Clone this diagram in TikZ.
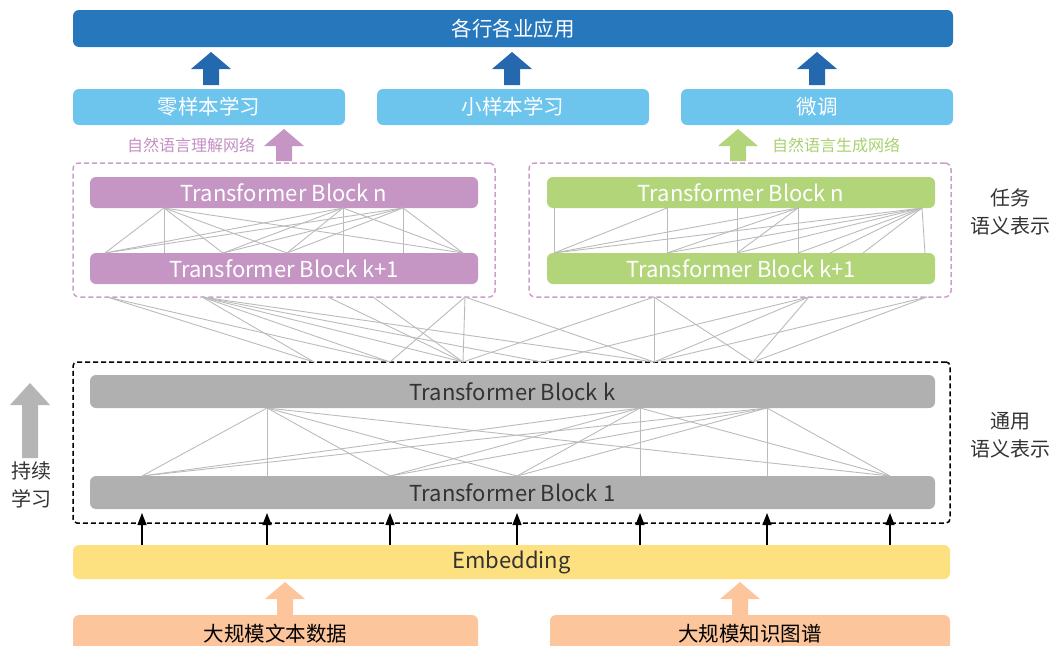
\documentclass[tikz,border=0pt]{standalone}
\usepackage{fontspec}
\setmainfont{Noto Sans CJK SC}
\usetikzlibrary{arrows.meta,calc}
\definecolor{topblue}{HTML}{2777BD}
\definecolor{arrblue}{HTML}{2468AE}
\definecolor{lightblue}{HTML}{6DC5EE}
\definecolor{purp}{HTML}{C596C4}
\definecolor{purpdash}{HTML}{CC9FCB}
\definecolor{purptext}{HTML}{C38EC1}
\definecolor{green1}{HTML}{B2D57A}
\definecolor{greentext}{HTML}{A9D06F}
\definecolor{grayblk}{HTML}{B1B0B1}
\definecolor{meshgray}{HTML}{BBBBBB}
\definecolor{yellow1}{HTML}{FDE07F}
\definecolor{orange1}{HTML}{FCC59B}
\definecolor{grayarr}{HTML}{B5B5B5}
\definecolor{darktext}{HTML}{333333}
\newcommand\BlockArrow[5]{\fill[#5] (#1-8,#4) -- (#1-8,#3) -- (#1-20,#3) -- (#1,#2) -- (#1+20,#3) -- (#1+8,#3) -- (#1+8,#4) -- cycle;}
\begin{document}
\begin{tikzpicture}[x=1pt,y=-1pt,
  box/.style={rounded corners=6pt, inner sep=0pt, outer sep=0pt, font=\fontsize{20.5}{24}\selectfont},
  lat/.style={font=\fontsize{22}{26}\selectfont},
  mesh/.style={draw=meshgray, line width=0.9pt},
  dashbox/.style={rounded corners=6pt, inner sep=0pt, outer sep=0pt, line width=1.5pt, dash pattern=on 5pt off 3pt},
  side/.style={font=\fontsize{20}{28}\selectfont, text=darktext, align=center, inner sep=0pt},
  lbl/.style={font=\fontsize{16}{18}\selectfont, inner sep=0pt},
  uparr/.style={line width=1.3pt, -{Triangle[width=9pt,length=12pt]}, draw=black}
]
\useasboundingbox (0,0) rectangle (1054,645);
\clip (0,0) rectangle (1054,645);

% top
\node[box, fill=topblue, text=white, minimum width=880pt, minimum height=37pt] (app) at (513,28.5) {各行各业应用};
\node[box, fill=lightblue, text=white, minimum width=272pt, minimum height=36pt] (zero) at (209,107) {零样本学习};
\node[box, fill=lightblue, text=white, minimum width=272pt, minimum height=36pt] (few) at (513,107) {小样本学习};
\node[box, fill=lightblue, text=white, minimum width=272pt, minimum height=36pt] (ft) at (817,107) {微调};
\BlockArrow{211}{52}{69}{85}{arrblue}
\BlockArrow{512}{52}{69}{85}{arrblue}
\BlockArrow{817}{52}{69}{85}{arrblue}

% task networks
\node[dashbox, draw=purpdash, minimum width=422pt, minimum height=134pt] (dashL) at (284,230) {};
\node[dashbox, draw=purpdash, minimum width=422pt, minimum height=134pt] (dashR) at (740,230) {};
\node[box, lat, fill=purp, text=white, minimum width=388pt, minimum height=31pt] (pn) at (284,192.5) {Transformer Block n};
\node[box, lat, fill=purp, text=white, minimum width=388pt, minimum height=31pt] (pk) at (284,268.5) {Transformer Block k+1};
\node[box, lat, fill=green1, text=white, minimum width=388pt, minimum height=31pt] (gn) at (741,192.5) {Transformer Block n};
\node[box, lat, fill=green1, text=white, minimum width=388pt, minimum height=31pt] (gk) at (741,268.5) {Transformer Block k+1};
\BlockArrow{284}{129}{146}{161}{purp}
\BlockArrow{738}{129}{146}{161}{green1}
\node[lbl, text=purptext] (nlu) at (191,145) {自然语言理解网络};
\node[lbl, text=greentext] (nlg) at (836,145) {自然语言生成网络};

\foreach \t/\b in {74/15,74/74,74/133,74/197,74/373,253/15,253/133,253/197,253/253,253/373,313/15,313/133,313/197,313/313,313/373}
  \draw[mesh] ([xshift=\t pt]pn.south west) -- ([xshift=\b pt]pk.north west);
\foreach \t/\b in {7/7,120/120,190/190,251/251,375/378,375/7,375/120,375/190,375/251,375/283,375/316,251/7,251/120,251/190,120/7}
  \draw[mesh] ([xshift=\t pt]gn.south west) -- ([xshift=\b pt]gk.north west);

% general
\node[dashbox, draw=black, rounded corners=4pt, minimum width=877pt, minimum height=161pt] (gen) at (511.5,442.5) {};
\node[box, lat, fill=grayblk, text=darktext, minimum width=845pt, minimum height=33pt] (bk) at (512.5,391.5) {Transformer Block k};
\node[box, lat, fill=grayblk, text=darktext, minimum width=845pt, minimum height=33pt] (b1) at (512.5,492.5) {Transformer Block 1};
\foreach \t/\b in {177/52,177/177,177/300,177/427,177/800,550/52,550/300,550/427,550/550,550/800,677/52,677/300,677/427,677/677,677/800}
  \draw[mesh] ([xshift=\t pt]bk.south west) -- ([xshift=\b pt]b1.north west);

\foreach \t/\b in {107/314,107/390,202/314,202/390,202/463,202/542,202/654,328/463,373/463,465/390,465/463,465/654,654/463,654/654,654/753,809/542,809/654,809/753,927/654,927/753}
  \draw[mesh] (\t,0 |- dashL.south) -- (\b,0 |- gen.north);

% embedding
\node[box, lat, fill=yellow1, text=darktext, minimum width=877pt, minimum height=34pt] (emb) at (511.5,562) {Embedding};
\foreach \d [count=\i] in {52,177,300,427,550,677,800} {
  \coordinate (a\i) at ([xshift=\d pt, yshift=-4pt]b1.south west);
  \draw[uparr] (a\i |- emb.north) -- (a\i);
}

% data
\node[box, fill=orange1, text=black, minimum width=405pt, minimum height=40pt, text depth=4pt] (txt) at (275.5,635) {大规模文本数据};
\node[box, fill=orange1, text=black, minimum width=400pt, minimum height=40pt, text depth=4pt] (kg) at (750,635) {大规模知识图谱};
\BlockArrow{285}{582}{599}{615}{orange1}
\BlockArrow{740}{582}{599}{615}{orange1}

% side labels
\node[side] (task) at (1010,212) {任务\\语义表示};
\node[side] (common) at (1010,435) {通用\\语义表示};
\node[side] (cont) at (31,485) {持续\\学习};
\BlockArrow{30}{383}{405}{458}{grayarr}
\end{tikzpicture}
\end{document}
